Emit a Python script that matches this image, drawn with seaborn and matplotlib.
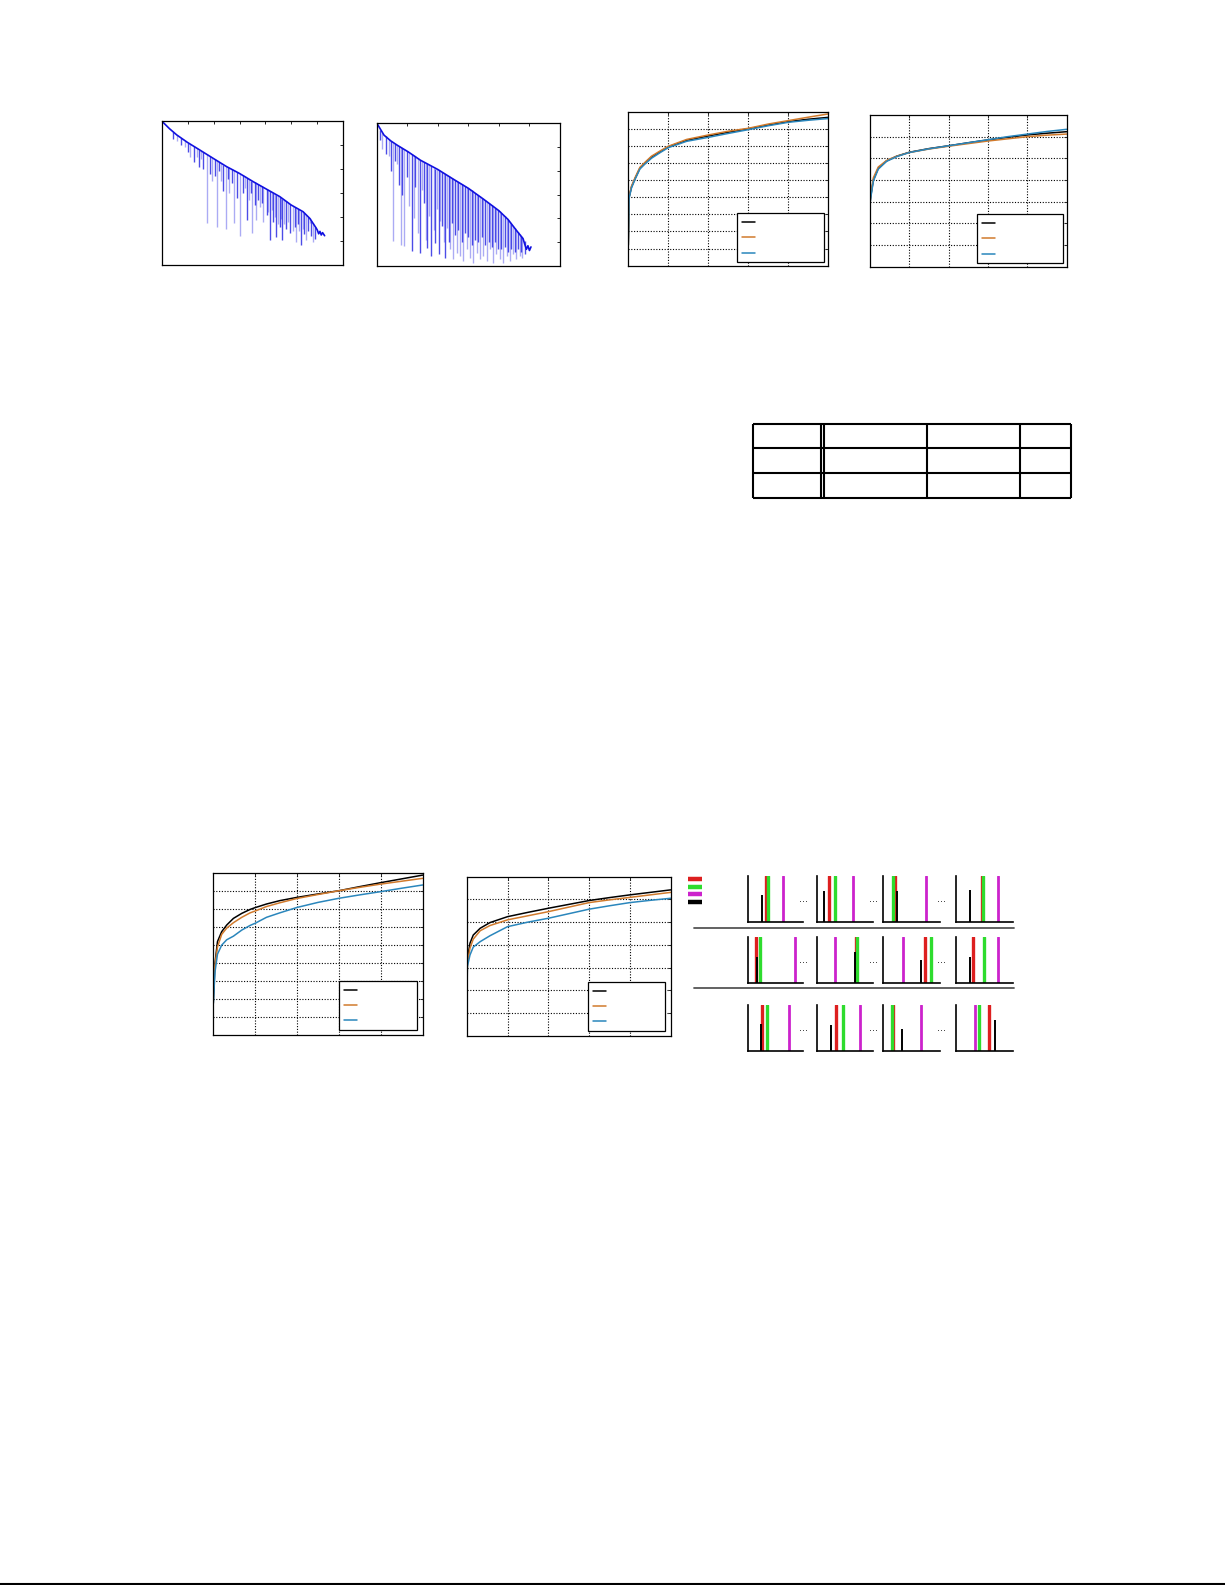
import numpy as np
import matplotlib
matplotlib.use("Agg")
import matplotlib.pyplot as plt
from matplotlib.lines import Line2D
import seaborn as sns

sns.set_style("white")
plt.rcParams['font.family'] = ['DejaVu Sans']

W, H = 1225, 1585

# ---- spectra (top left), envelope + downward spikes, y in log units ----
env1_x = [0, 0.3, 0.58, 0.99, 1.47, 1.99, 2.5, 2.99, 3.53, 3.99, 4.55, 4.99, 5.45,
          5.71, 5.96, 6.0, 6.05, 6.1, 6.15, 6.2, 6.28]
env1_y = [0, -0.32, -0.58, -0.89, -1.21, -1.56, -1.9, -2.18, -2.53, -2.81, -3.15, -3.5,
          -3.78, -4.06, -4.47, -4.55, -4.7, -4.6, -4.75, -4.65, -4.78]
# columns: x, top, bottom
spikes1 = np.array([
    (0.45, -0.45, -0.75), (0.6, -0.6, -0.85), (0.75, -0.71, -1.0), (0.9, -0.82, -1.1),
    (1.0, -0.9, -1.3), (1.1, -0.96, -1.5), (1.25, -1.05, -1.7), (1.35, -1.12, -1.5),
    (1.45, -1.19, -1.9), (1.52, -1.25, -1.6), (1.6, -1.3, -2.0), (1.73, -1.38, -4.26),
    (1.85, -1.46, -2.2), (1.95, -1.53, -2.5), (2.05, -1.6, -2.3), (2.15, -1.67, -4.43),
    (2.22, -1.72, -2.1), (2.3, -1.77, -2.5), (2.38, -1.82, -2.9), (2.47, -1.88, -4.5),
    (2.55, -1.93, -2.4), (2.6, -1.96, -3.0), (2.7, -2.02, -2.6), (2.78, -2.06, -4.26),
    (2.9, -2.13, -3.2), (3.01, -2.19, -4.79), (3.12, -2.26, -3.0), (3.2, -2.31, -2.8),
    (3.27, -2.36, -4.13), (3.38, -2.43, -3.3), (3.45, -2.48, -3.0), (3.49, -2.5, -4.68),
    (3.58, -2.56, -3.5), (3.65, -2.6, -4.13), (3.7, -2.62, -3.3), (3.78, -2.68, -3.6),
    (3.85, -2.72, -3.4), (3.91, -2.76, -4.19), (4.05, -2.85, -3.9), (4.1, -2.88, -3.8),
    (4.19, -2.93, -4.96), (4.25, -2.97, -3.7), (4.3, -3.0, -4.2), (4.37, -3.04, -4.0),
    (4.42, -3.07, -4.82), (4.48, -3.11, -4.3), (4.55, -3.15, -4.4), (4.6, -3.19, -4.1),
    (4.65, -3.23, -4.96), (4.72, -3.28, -4.3), (4.8, -3.34, -4.5), (4.87, -3.4, -4.2),
    (4.94, -3.46, -4.68), (5.05, -3.54, -4.6), (5.12, -3.58, -4.4), (5.19, -3.62, -5.03),
    (5.25, -3.66, -4.3), (5.3, -3.68, -4.6), (5.38, -3.73, -5.17), (5.44, -3.78, -4.5),
    (5.5, -3.83, -4.7), (5.58, -3.92, -4.96), (5.65, -4.0, -4.6), (5.71, -4.06, -4.26),
    (5.77, -4.15, -4.8), (5.83, -4.25, -5.03), (5.92, -4.4, -4.9)])

env2_x = [0, 0.24, 0.46, 0.67, 1.03, 1.43, 2.0, 2.5, 3.0, 3.5, 4.0, 4.3, 4.57, 4.79,
          4.85, 4.9, 4.95, 5.0, 5.05]
env2_y = [0, -0.51, -0.75, -0.93, -1.21, -1.56, -1.95, -2.35, -2.74, -3.2, -3.68, -4.05,
          -4.5, -4.85, -5.1, -5.3, -5.15, -5.35, -5.2]
spikes2 = np.array([
    (0.12, -0.3, -0.7), (0.18, -0.4, -1.07), (0.29, -0.56, -1.28), (0.4, -0.68, -1.4),
    (0.47, -0.76, -2.0), (0.54, -0.82, -4.96), (0.6, -0.87, -1.6), (0.67, -0.93, -1.7),
    (0.72, -0.97, -2.6), (0.78, -1.01, -5.1), (0.84, -1.05, -3.0), (0.89, -1.09, -5.17),
    (0.98, -1.17, -2.25), (1.07, -1.24, -3.5), (1.16, -1.31, -5.38), (1.22, -1.36, -4.0),
    (1.27, -1.4, -2.67), (1.35, -1.48, -4.6), (1.43, -1.56, -5.44), (1.49, -1.6, -2.8),
    (1.54, -1.64, -3.36), (1.6, -1.68, -4.9), (1.65, -1.72, -5.24), (1.72, -1.77, -3.9),
    (1.79, -1.82, -5.58), (1.86, -1.88, -4.5), (1.92, -1.92, -5.03), (1.97, -1.95, -3.6),
    (2.03, -1.98, -5.51), (2.08, -2.02, -4.1), (2.13, -2.06, -4.33), (2.19, -2.1, -5.0),
    (2.24, -2.14, -5.65), (2.3, -2.19, -4.4), (2.36, -2.24, -5.0), (2.41, -2.27, -5.3),
    (2.46, -2.31, -4.2), (2.51, -2.36, -5.72), (2.56, -2.4, -4.7), (2.62, -2.44, -5.44),
    (2.67, -2.48, -4.5), (2.73, -2.53, -5.58), (2.78, -2.56, -5.0), (2.84, -2.6, -5.79),
    (2.9, -2.65, -4.6), (2.95, -2.7, -5.3), (3.0, -2.74, -4.8), (3.06, -2.79, -5.65),
    (3.11, -2.83, -5.1), (3.16, -2.88, -5.86), (3.22, -2.93, -4.9), (3.27, -2.97, -5.44),
    (3.33, -3.03, -5.0), (3.38, -3.08, -5.72), (3.44, -3.14, -4.8), (3.49, -3.19, -5.58),
    (3.55, -3.25, -5.1), (3.6, -3.3, -5.79), (3.66, -3.35, -5.0), (3.71, -3.4, -5.3),
    (3.76, -3.45, -5.2), (3.81, -3.5, -5.86), (3.87, -3.55, -5.0), (3.92, -3.6, -5.51),
    (3.98, -3.65, -5.3), (4.03, -3.71, -5.72), (4.08, -3.77, -5.3), (4.14, -3.84, -5.86),
    (4.2, -3.91, -5.2), (4.25, -3.98, -5.58), (4.3, -4.05, -5.4), (4.36, -4.15, -5.79),
    (4.41, -4.23, -5.3), (4.46, -4.32, -5.51), (4.52, -4.42, -5.4), (4.57, -4.5, -5.72),
    (4.62, -4.58, -5.3), (4.68, -4.66, -5.58), (4.73, -4.74, -5.4), (4.77, -4.8, -5.65),
    (4.85, -4.95, -5.5)])

# ---- curve panels: three methods each ----
c3_x = [0, 0.02, 0.08, 0.17, 0.29, 0.42, 0.58, 0.79, 1.0, 1.46, 2.0, 2.5, 3.0, 3.5, 4.0, 4.5, 5.0]
c3_black = [1.2, 4.0, 4.6, 5.1, 5.7, 6.0, 6.35, 6.65, 6.95, 7.33, 7.58, 7.8, 8.0, 8.22, 8.42, 8.56, 8.67]
c3_orange = [1.2, 4.05, 4.65, 5.15, 5.75, 6.05, 6.4, 6.7, 6.98, 7.38, 7.64, 7.86, 8.03, 8.28, 8.48, 8.68, 8.87]
c3_blue = [1.2, 3.95, 4.55, 5.05, 5.65, 5.95, 6.28, 6.6, 6.9, 7.27, 7.5, 7.73, 7.95, 8.18, 8.38, 8.5, 8.6]

c4_x = [0, 0.017, 0.085, 0.21, 0.42, 0.68, 1.0, 1.5, 2.0, 2.5, 3.0, 3.5, 4.0, 4.5, 5.0]
c4_black = [2.9, 3.23, 4.0, 4.54, 4.88, 5.1, 5.28, 5.45, 5.58, 5.72, 5.85, 5.97, 6.08, 6.16, 6.23]
c4_orange = [2.9, 3.3, 4.1, 4.6, 4.9, 5.1, 5.27, 5.43, 5.56, 5.68, 5.8, 5.9, 6.0, 6.07, 6.12]
c4_blue = [2.9, 3.15, 3.95, 4.5, 4.86, 5.08, 5.27, 5.44, 5.58, 5.72, 5.86, 6.0, 6.12, 6.24, 6.34]

c5_x = [0, 0.04, 0.1, 0.2, 0.32, 0.48, 0.68, 0.88, 1.0, 1.27, 1.59, 2.0, 2.5, 3.0, 3.5, 4.0, 4.5, 5.0]
c5_black = [1.76, 3.99, 5.2, 5.75, 6.12, 6.49, 6.77, 6.99, 7.09, 7.29, 7.48, 7.66, 7.85, 8.03, 8.26, 8.48, 8.69, 8.9]
c5_orange = [2.88, 3.9, 4.9, 5.6, 5.95, 6.25, 6.55, 6.8, 6.9, 7.15, 7.36, 7.6, 7.82, 8.03, 8.22, 8.4, 8.56, 8.72]
c5_blue = [1.76, 3.5, 4.5, 5.0, 5.3, 5.5, 5.84, 6.1, 6.22, 6.55, 6.8, 7.1, 7.38, 7.61, 7.8, 7.98, 8.17, 8.35]

c6_x = [0, 0.016, 0.08, 0.16, 0.33, 0.57, 1.0, 1.5, 2.0, 2.5, 3.0, 3.5, 4.0, 4.5, 5.0]
c6_black = [0.1, 3.33, 4.07, 4.43, 4.73, 4.98, 5.24, 5.43, 5.61, 5.78, 5.95, 6.08, 6.2, 6.31, 6.42]
c6_orange = [0.1, 3.19, 3.85, 4.25, 4.62, 4.85, 5.1, 5.28, 5.46, 5.66, 5.86, 5.98, 6.09, 6.2, 6.31]
c6_blue = [0.1, 3.04, 3.55, 3.9, 4.14, 4.4, 4.8, 5.0, 5.17, 5.37, 5.57, 5.72, 5.86, 5.96, 6.05]

# ---- small peak panels (3 rows x 4 columns), positions on [0, 1] ----
peak_black_x = [[0.25, 0.12, 0.25, 0.25], [0.16, 0.67, 0.67, 0.25], [0.24, 0.25, 0.33, 0.68]]
peak_black_h = [[0.58, 0.67, 0.67, 0.69], [0.55, 0.66, 0.49, 0.55], [0.58, 0.56, 0.47, 0.67]]
peak_red_x = [[0.33, 0.22, 0.205, 0.45], [0.14, 0.70, 0.74, 0.30], [0.26, 0.34, 0.18, 0.58]]
peak_green_x = [[0.37, 0.32, 0.18, 0.48], [0.22, 0.72, 0.85, 0.49], [0.34, 0.47, 0.15, 0.41]]
peak_magenta_x = [[0.64, 0.64, 0.75, 0.74], [0.85, 0.33, 0.35, 0.74], [0.74, 0.77, 0.67, 0.34]]

# table grid (pixel offsets inside the table box)
table_cols = [0, 68, 71, 174, 266.5, 318]
table_rows = [0, 24, 49, 73.7]

BLUE_SP = '#1010E0'
CURVE_COLORS = ['black', '#D17A2C', '#2A86BC']
RED, GREEN, MAGENTA = '#DD1F1F', '#2EDC2E', '#CC22CC'


def rect(x0, y0, x1, y1):
    return [x0 / W, 1 - y1 / H, (x1 - x0) / W, (y1 - y0) / H]


def spectrum_panel(fig, r, env_x, env_y, spikes, xmax):
    ax = fig.add_axes(r)
    sx, st, sb = spikes[:, 0], spikes[:, 1], spikes[:, 2]
    ax.vlines(sx[1::2], sb[1::2], st[1::2], color=BLUE_SP, lw=1.0, alpha=0.35)
    ax.vlines(sx[::2], sb[::2], st[::2], color=BLUE_SP, lw=1.0, alpha=0.75)
    sns.lineplot(x=env_x, y=env_y, color=BLUE_SP, lw=1.2, ax=ax, sort=False,
                 estimator=None, legend=False)
    ax.set_xlim(0, xmax)
    ax.set_ylim(-6, 0)
    ax.set_xticks(range(1, xmax))
    ax.set_yticks(range(-5, 0))
    ax.tick_params(direction='in', length=2.5, width=0.7, labelbottom=False,
                   labelleft=False, left=False, right=True, top=True)
    for s in ax.spines.values():
        s.set_color('black')
        s.set_linewidth(0.9)
    ax.set_xlabel('')
    ax.set_ylabel('')
    return ax


def curve_panel(fig, r, x, ys, ymax, leg):
    ax = fig.add_axes(r)
    for y, c in zip(ys, CURVE_COLORS):
        sns.lineplot(x=x, y=y, color=c, lw=1.1, ax=ax, sort=False,
                     estimator=None, legend=False)
    ax.set_xlim(0, 5)
    ax.set_ylim(0, ymax)
    ax.set_xticks(range(1, 5))
    ax.set_yticks(range(1, ymax))
    ax.grid(True, color='black', ls=(0, (1, 1.5)), lw=0.8)
    ax.tick_params(direction='in', length=2, width=0.7, labelbottom=False,
                   labelleft=False, top=True, right=True)
    for s in ax.spines.values():
        s.set_color('black')
        s.set_linewidth(0.9)
    ax.set_xlabel('')
    ax.set_ylabel('')
    handles = [Line2D([], [], color=c, lw=1.1) for c in CURVE_COLORS]
    lg = ax.legend(handles, ['', '', ''], loc='lower left', bbox_to_anchor=leg,
                   mode='expand', borderaxespad=0, fontsize=6, handlelength=1.6,
                   labelspacing=0.75, borderpad=0.55, fancybox=False,
                   framealpha=1, edgecolor='black')
    lg.get_frame().set_linewidth(0.9)
    return ax


fig = plt.figure(figsize=(W / 100, H / 100), dpi=100)

spectrum_panel(fig, rect(161.7, 121, 343.3, 265), env1_x, env1_y, spikes1, 7)
spectrum_panel(fig, rect(376.7, 123, 560, 266), env2_x, env2_y, spikes2, 6)

curve_panel(fig, rect(628.3, 111.7, 828.3, 265.7), c3_x, [c3_black, c3_orange, c3_blue], 9,
            (0.5435, 0.024, 0.435, 0.26))
curve_panel(fig, rect(870, 115, 1066.7, 266.7), c4_x, [c4_black, c4_orange, c4_blue], 7,
            (0.544, 0.024, 0.437, 0.26))
curve_panel(fig, rect(213.3, 873.3, 422.7, 1035), c5_x, [c5_black, c5_orange, c5_blue], 9,
            (0.6, 0.031, 0.3725, 0.25))
curve_panel(fig, rect(466.7, 876.7, 670.7, 1035.7), c6_x, [c6_black, c6_orange, c6_blue], 7,
            (0.595, 0.03, 0.377, 0.25))

# empty table
tx0, ty0 = 753, 424.3
tax = fig.add_axes(rect(tx0 - 2, ty0 - 2, tx0 + table_cols[-1] + 2, ty0 + table_rows[-1] + 2))
tax.set_xlim(-2, table_cols[-1] + 2)
tax.set_ylim(table_rows[-1] + 2, -2)
tax.axis('off')
tax.hlines(table_rows, table_cols[0], table_cols[-1], color='black', lw=1.5)
tax.vlines(table_cols, table_rows[0], table_rows[-1], color='black', lw=1.5)

# small peak panels
col_l = [748, 817, 883, 956]
col_r = [803, 873, 940, 1013]
row_t = [876, 937, 1005]
for i in range(3):
    for j in range(4):
        ax = fig.add_axes(rect(col_l[j], row_t[i], col_r[j], row_t[i] + 45.5))
        ax.axvline(peak_red_x[i][j], color=RED, lw=2.4)
        ax.axvline(peak_green_x[i][j], color=GREEN, lw=2.4)
        ax.axvline(peak_magenta_x[i][j], color=MAGENTA, lw=2.0)
        ax.vlines(peak_black_x[i][j], 0, peak_black_h[i][j], color='black', lw=1.4)
        ax.set_xlim(0, 1)
        ax.set_ylim(0, 1)
        ax.set_xticks([])
        ax.set_yticks([])
        sns.despine(ax=ax)
        for s in ('left', 'bottom'):
            ax.spines[s].set_color('black')
            ax.spines[s].set_linewidth(1.2)
        if j < 3:
            fig.text((col_r[j] + 1) / W, 1 - (row_t[i] + 23) / H, '...', fontsize=7,
                     color='#222222', ha='center', va='center')

# colour key of the peak panels
kax = fig.add_axes(rect(686, 875, 704, 906))
kax.hlines([3, 2, 1, 0], 0.1, 0.9, colors=[RED, GREEN, MAGENTA, 'black'], lw=3.2)
kax.set_xlim(0, 1)
kax.set_ylim(-0.5, 3.5)
kax.axis('off')

# separators between peak rows and page footer rule
for yy in (928, 988):
    fig.add_artist(Line2D([694 / W, 1014 / W], [1 - yy / H, 1 - yy / H],
                          transform=fig.transFigure, color='#555555', lw=1.3))
fig.add_artist(Line2D([0, 1], [1 - 1583.5 / H, 1 - 1583.5 / H],
                      transform=fig.transFigure, color='black', lw=1.5))

fig.savefig('out.png', dpi=100)
